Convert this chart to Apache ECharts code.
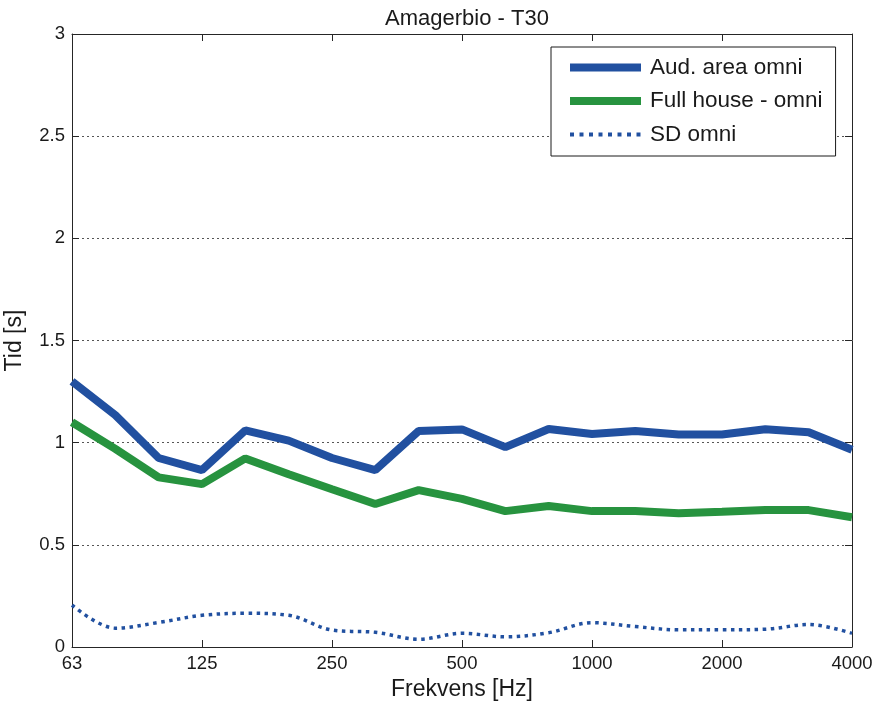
<!DOCTYPE html>
<html>
<head>
<meta charset="utf-8">
<script src="https://cdn.jsdelivr.net/npm/echarts@6/dist/echarts.min.js"></script>
<style>html,body{margin:0;padding:0;background:#fff;}#c{width:882px;height:710px;}</style>
</head>
<body>
<div id="c"></div>
<script>
var categories = ['63','80','100','125','160','200','250','315','400','500','630','800','1000','1250','1600','2000','2500','3150','4000'];
var tickLabels = ['63','125','250','500','1000','2000','4000'];
var audArea = [1.30,1.135,0.925,0.866,1.06,1.01,0.925,0.866,1.057,1.065,0.978,1.067,1.042,1.057,1.04,1.04,1.066,1.051,0.965];
var fullHouse = [1.10,0.97,0.83,0.797,0.923,0.845,0.772,0.70,0.768,0.725,0.665,0.69,0.665,0.665,0.655,0.662,0.67,0.67,0.635];
var sdOmni = [0.205,0.092,0.12,0.155,0.165,0.155,0.083,0.072,0.038,0.067,0.05,0.07,0.119,0.10,0.084,0.084,0.087,0.11,0.067];
var yTicks = {min:0, max:3, interval:0.5};

var chart = echarts.init(document.getElementById('c'));
var font = 'Liberation Sans, Arial, Helvetica, sans-serif';
var axisCol = '#262626';
var blue = '#2150a0';
var green = '#27933f';
var showTick = function(i, v){ return tickLabels.indexOf(categories[i]) >= 0; };

chart.setOption({
  backgroundColor: '#fff',
  animation: false,
  title: {
    text: 'Amagerbio - T30', left: 462, textAlign: 'center', top: 3,
    textStyle: {fontFamily: font, fontSize: 22, fontWeight: 'normal', color: '#1a1a1a'}
  },
  grid: {left: 72, right: 30, top: 34, bottom: 63, containLabel: false, outerBoundsMode: 'none'},
  legend: {
    orient: 'vertical', left: 551, top: 47,
    padding: [9, 13, 10, 15],
    itemGap: 10.5,
    itemWidth: 71, itemHeight: 24,
    backgroundColor: '#fff', borderColor: '#1a1a1a', borderWidth: 1,
    itemStyle: {opacity: 0},
    textStyle: {fontFamily: font, fontSize: 22.5, color: '#1a1a1a', padding: [0, 0, 0, 4]},
    data: [
      {name: 'Aud. area omni', lineStyle: {width: 8}},
      {name: 'Full house - omni', lineStyle: {width: 8}},
      {name: 'SD omni', lineStyle: {width: 4, type: [4, 5.5]}}
    ]
  },
  xAxis: [{
    type: 'category', data: categories, boundaryGap: false,
    name: 'Frekvens [Hz]', nameLocation: 'middle', nameGap: 31,
    nameTextStyle: {fontFamily: font, fontSize: 23, color: '#1a1a1a'},
    axisLine: {onZero: false, lineStyle: {color: axisCol, width: 1}},
    axisTick: {inside: true, length: 7, interval: showTick, lineStyle: {color: axisCol}},
    axisLabel: {interval: showTick, fontFamily: font, fontSize: 18.5, color: '#1a1a1a', margin: 7},
    splitLine: {show: false}
  }, {
    type: 'category', data: categories, boundaryGap: false, position: 'top',
    axisLine: {onZero: false, lineStyle: {color: axisCol, width: 1}},
    axisTick: {inside: true, length: 7, interval: showTick, lineStyle: {color: axisCol}},
    axisLabel: {show: false}, splitLine: {show: false}
  }],
  yAxis: [{
    type: 'value', min: yTicks.min, max: yTicks.max, interval: yTicks.interval,
    name: 'Tid [s]', nameLocation: 'middle', nameGap: 46,
    nameTextStyle: {fontFamily: font, fontSize: 23, color: '#1a1a1a'},
    axisLine: {show: true, onZero: false, lineStyle: {color: axisCol, width: 1}},
    axisTick: {show: true, inside: true, length: 7, lineStyle: {color: axisCol}},
    axisLabel: {fontFamily: font, fontSize: 18.5, color: '#1a1a1a', margin: 7},
    splitLine: {show: true, lineStyle: {color: '#555', type: [2, 3], width: 1}}
  }, {
    type: 'value', min: yTicks.min, max: yTicks.max, interval: yTicks.interval, position: 'right',
    axisLine: {show: true, onZero: false, lineStyle: {color: axisCol, width: 1}},
    axisTick: {show: true, inside: true, length: 7, lineStyle: {color: axisCol}},
    axisLabel: {show: false}, splitLine: {show: false}
  }],
  series: [{
    name: 'Aud. area omni', type: 'line', data: audArea, symbol: 'none',
    lineStyle: {color: blue, width: 8}, itemStyle: {color: blue}
  }, {
    name: 'Full house - omni', type: 'line', data: fullHouse, symbol: 'none',
    lineStyle: {color: green, width: 8}, itemStyle: {color: green}
  }, {
    name: 'SD omni', type: 'line', data: sdOmni, symbol: 'none', smooth: 0.35,
    lineStyle: {color: blue, width: 3.5, type: [3.5, 4.5]}, itemStyle: {color: blue}
  }]
});
</script>
</body>
</html>
